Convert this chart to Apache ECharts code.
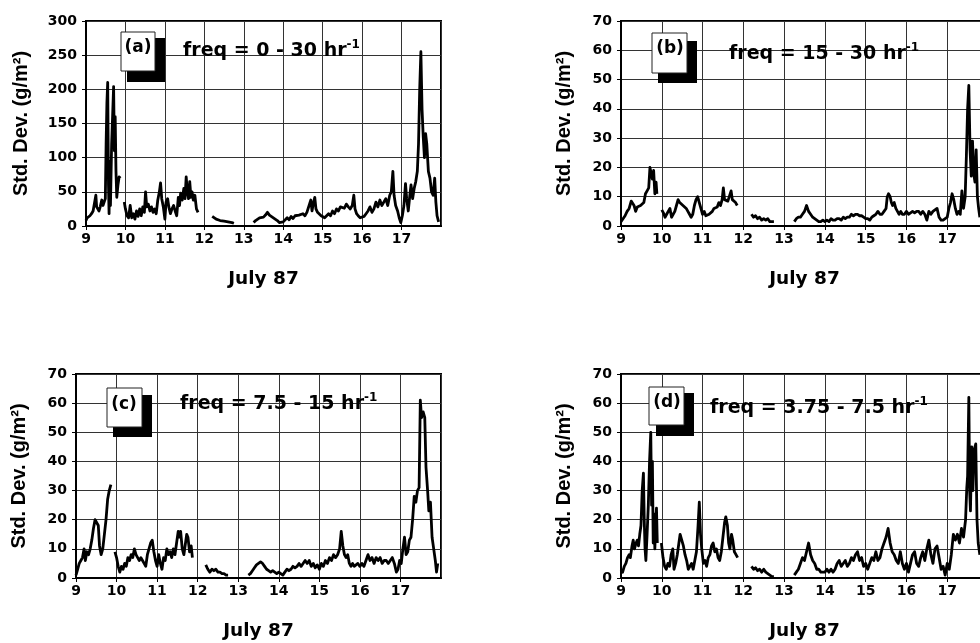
<!DOCTYPE html>
<html><head><meta charset="utf-8">
<script src="https://cdn.jsdelivr.net/npm/echarts@6.0.0/dist/echarts.min.js"></script>
<style>html,body{margin:0;padding:0;background:#fff;}#chart{width:980px;height:643px;}</style>
</head><body><div id="chart"></div>
<script>
// ---- texts ----
const xTitle = 'July 87';
const yTitle = 'Std. Dev. (g/m\u00B2)';
const panelTags = ['(a)', '(b)', '(c)', '(d)'];
const freqLabels = ['freq = 0 - 30 hr', 'freq = 15 - 30 hr', 'freq = 7.5 - 15 hr', 'freq = 3.75 - 7.5 hr'];
const freqUnitExp = '-1';
// ---- axes ----
const dayMin = 9, dayMax = 18, dayStep = 1;
const yMaxes = [300, 70, 70, 70];
const yIntervals = [50, 10, 10, 10];
// ---- data: [day of July 1987, std. dev. g/m2]; null = gap in record ----
const seriesA = [
[9.00,8],[9.03,12],[9.07,10],[9.10,15],[9.14,18],[9.18,22],[9.21,20],[9.25,45],[9.27,28],[9.30,30],[9.33,22],[9.36,28],[9.40,38],[9.43,30],[9.46,35],[9.49,40],[9.51,120],[9.53,180],[9.55,210],[9.57,60],[9.585,18],[9.60,95],[9.62,30],[9.65,120],[9.68,170],[9.70,204],[9.72,110],[9.74,160],[9.76,80],[9.78,42],[9.81,60],[9.84,72],[9.87,70],
[9.92,null],
[9.97,35],[10.00,25],[10.04,15],[10.08,12],[10.12,30],[10.16,12],[10.20,18],[10.24,10],[10.28,22],[10.32,14],[10.36,25],[10.40,15],[10.44,28],[10.48,20],[10.51,50],[10.54,28],[10.58,32],[10.62,22],[10.66,28],[10.70,20],[10.74,25],[10.78,18],[10.82,38],[10.86,50],[10.89,63],[10.92,40],[10.96,28],[11.00,10],[11.03,35],[11.07,40],[11.10,28],[11.14,18],[11.18,25],[11.22,30],[11.26,22],[11.30,15],[11.34,42],[11.37,30],[11.40,48],[11.44,38],[11.48,55],[11.51,40],[11.54,72],[11.57,50],[11.60,40],[11.63,65],[11.66,42],[11.69,50],[11.72,38],[11.76,45],[11.80,25],[11.84,20],
[11.95,null],
[12.20,14],[12.25,12],[12.30,10],[12.35,11],[12.40,8],[12.45,9],[12.50,7],[12.55,8],[12.60,6],[12.65,7],[12.70,5],[12.75,4],
[13.00,null],
[13.25,5],[13.30,8],[13.35,10],[13.40,12],[13.45,14],[13.50,13],[13.55,16],[13.60,20],[13.65,16],[13.70,14],[13.75,12],[13.80,10],[13.85,8],[13.90,5],[13.95,4],[14.00,6],[14.05,8],[14.10,12],[14.15,9],[14.20,14],[14.25,11],[14.30,15],[14.35,13],[14.40,16],[14.45,14],[14.50,18],[14.55,15],[14.60,20],[14.65,18],[14.70,38],[14.73,22],[14.76,32],[14.80,42],[14.83,25],[14.87,20],[14.92,18],[14.96,15],[15.00,14],[15.05,12],[15.10,10],[15.15,18],[15.20,15],[15.25,22],[15.30,18],[15.35,25],[15.40,22],[15.45,28],[15.50,30],[15.55,26],[15.60,32],[15.65,28],[15.70,25],[15.75,30],[15.79,45],[15.82,25],[15.86,18],[15.90,15],[15.95,12],[16.00,10],[16.05,14],[16.10,18],[16.15,22],[16.20,28],[16.25,20],[16.30,25],[16.35,35],[16.40,28],[16.45,38],[16.50,30],[16.55,35],[16.60,40],[16.65,30],[16.70,45],[16.74,50],[16.78,80],[16.81,45],[16.85,30],[16.90,22],[16.94,12],[16.98,5],[17.02,15],[17.06,30],[17.10,62],[17.13,40],[17.17,22],[17.21,45],[17.24,60],[17.28,40],[17.32,55],[17.36,65],[17.40,80],[17.43,120],[17.46,200],[17.49,255],[17.52,170],[17.55,130],[17.58,100],[17.61,135],[17.64,120],[17.68,80],[17.72,70],[17.76,50],[17.80,45],[17.84,70],[17.87,35],[17.90,15],[17.94,6]
];
const seriesB = [
[9.00,1.5],[9.05,2.5],[9.10,3.5],[9.15,5],[9.20,6],[9.25,8.5],[9.28,9],[9.32,7],[9.36,5],[9.40,6.5],[9.44,6],[9.48,7],[9.52,6.5],[9.56,8],[9.60,11],[9.64,12],[9.68,13],[9.71,20],[9.74,20],[9.77,16],[9.80,19],[9.83,11],[9.86,15],[9.88,11],
[9.93,null],
[10.00,5.5],[10.04,4.5],[10.08,3],[10.12,4],[10.16,3.5],[10.20,6],[10.24,3],[10.28,4],[10.32,5],[10.36,7],[10.40,9],[10.44,8],[10.48,8],[10.52,7],[10.56,6.5],[10.60,6],[10.64,5],[10.68,4],[10.72,3],[10.76,4],[10.80,7],[10.84,9],[10.88,10],[10.92,8],[10.96,6],[11.00,4],[11.04,5],[11.08,3.5],[11.12,3],[11.16,4],[11.20,4],[11.24,5],[11.28,6],[11.32,5.5],[11.36,6.5],[11.40,8],[11.44,7],[11.48,9],[11.51,13],[11.54,9],[11.58,9],[11.62,8.5],[11.66,8],[11.70,12],[11.73,9],[11.77,8.5],[11.81,8],[11.85,7],
[11.95,null],
[12.20,4],[12.25,3],[12.30,3.5],[12.35,2.5],[12.40,3],[12.45,2],[12.50,2.5],[12.55,2],[12.60,2.5],[12.65,1.5],[12.70,1.5],[12.75,1.5],
[13.00,null],
[13.25,1.5],[13.30,2.5],[13.35,3],[13.40,3],[13.45,4],[13.50,5],[13.55,7],[13.60,5],[13.65,4],[13.70,3],[13.75,2.5],[13.80,2],[13.85,1.5],[13.90,1.5],[13.95,2],[14.00,1.5],[14.05,2],[14.10,1.5],[14.15,2.5],[14.20,2],[14.25,2],[14.30,2.5],[14.35,2.5],[14.40,2],[14.45,3],[14.50,2.5],[14.55,3],[14.60,3],[14.65,4],[14.70,3.5],[14.75,4],[14.80,4],[14.85,3.5],[14.90,3.5],[14.95,3],[15.00,2.5],[15.05,2.5],[15.10,2],[15.15,3],[15.20,3.5],[15.25,4],[15.30,5],[15.35,4],[15.40,4],[15.45,5],[15.50,6],[15.53,10],[15.56,11],[15.60,10],[15.63,8],[15.66,7],[15.70,8],[15.74,6],[15.78,5],[15.82,4],[15.86,5],[15.90,4],[15.95,4],[16.00,5],[16.05,4],[16.10,4.5],[16.15,5],[16.20,4.5],[16.25,5],[16.30,5],[16.35,4],[16.40,5],[16.45,4],[16.50,2],[16.55,5],[16.60,4],[16.65,5],[16.70,5.5],[16.75,6],[16.80,3],[16.85,2],[16.90,2],[16.95,2.5],[17.00,3],[17.04,6],[17.08,8],[17.12,11],[17.16,9],[17.20,6],[17.24,4],[17.28,5],[17.32,4],[17.36,12],[17.40,6],[17.44,10],[17.47,24],[17.50,40],[17.53,48],[17.56,26],[17.59,17],[17.62,29],[17.65,18],[17.68,15],[17.71,26],[17.74,10],[17.77,6],[17.80,3]
];
const seriesC = [
[9.00,1],[9.04,3],[9.08,5],[9.12,6],[9.16,7],[9.20,10],[9.23,6],[9.27,9],[9.31,8],[9.35,10],[9.39,13],[9.43,17],[9.47,20],[9.51,20],[9.55,18],[9.58,11],[9.62,8],[9.66,10],[9.70,15],[9.74,20],[9.78,27],[9.82,30],[9.86,32],
[9.91,null],
[9.96,9],[10.00,7],[10.04,4],[10.08,2],[10.12,4],[10.16,3],[10.20,5],[10.24,4],[10.28,7],[10.32,6],[10.36,8],[10.40,7],[10.44,10],[10.48,8],[10.52,7],[10.56,6],[10.60,7],[10.64,6],[10.68,5],[10.72,4],[10.76,8],[10.80,10],[10.84,12],[10.88,13],[10.92,9],[10.96,6],[11.00,4],[11.04,8],[11.08,5],[11.12,3],[11.16,7],[11.20,6],[11.24,10],[11.28,8],[11.32,9],[11.36,7],[11.40,10],[11.44,8],[11.48,12],[11.52,16],[11.55,14],[11.58,16],[11.62,10],[11.66,8],[11.70,12],[11.73,15],[11.76,14],[11.80,9],[11.84,11],[11.87,7],
[11.95,null],
[12.20,4.5],[12.25,3],[12.30,2],[12.35,3],[12.40,2.5],[12.45,3],[12.50,2],[12.55,2],[12.60,1.5],[12.65,1.5],[12.70,1],[12.75,1],
[13.00,null],
[13.25,1],[13.30,1.5],[13.35,2.5],[13.40,3.5],[13.45,4.5],[13.50,5],[13.55,5.5],[13.60,5],[13.65,4],[13.70,3],[13.75,2.5],[13.80,2],[13.85,2.5],[13.90,2],[13.95,1.5],[14.00,2],[14.05,1.5],[14.10,1],[14.15,2],[14.20,3],[14.25,2.5],[14.30,3],[14.35,4],[14.40,3.5],[14.45,4],[14.50,5],[14.55,4],[14.60,5],[14.65,6],[14.70,5],[14.75,6],[14.80,4],[14.85,5],[14.90,3.5],[14.95,4.5],[15.00,3],[15.05,5],[15.10,4],[15.15,6],[15.20,5],[15.25,7],[15.30,6],[15.35,8],[15.40,7],[15.45,8],[15.50,10],[15.54,16],[15.58,11],[15.62,8],[15.66,7],[15.70,8],[15.74,5],[15.78,4],[15.82,5],[15.86,4],[15.90,4],[15.95,5],[16.00,4],[16.05,5],[16.10,4],[16.15,6],[16.20,8],[16.25,6],[16.30,7],[16.35,5],[16.40,7],[16.45,6],[16.50,7],[16.55,5],[16.60,6],[16.65,6],[16.70,5],[16.75,6],[16.80,7],[16.85,5],[16.90,2],[16.94,3],[16.98,6],[17.02,5],[17.06,10],[17.10,14],[17.14,8],[17.18,9],[17.22,13],[17.26,14],[17.30,20],[17.34,28],[17.38,26],[17.42,30],[17.46,31],[17.49,61],[17.52,55],[17.56,57],[17.60,55],[17.63,38],[17.67,30],[17.70,23],[17.74,26],[17.78,14],[17.82,10],[17.86,6],[17.89,2],[17.92,5]
];
const seriesD = [
[9.00,3],[9.04,2],[9.08,4],[9.12,5],[9.16,7],[9.20,8],[9.23,7],[9.27,11],[9.30,13],[9.33,10],[9.37,12],[9.40,13],[9.43,11],[9.46,15],[9.49,18],[9.52,30],[9.55,36],[9.57,20],[9.59,10],[9.61,6],[9.64,15],[9.67,25],[9.70,40],[9.73,50],[9.75,25],[9.77,40],[9.79,12],[9.81,22],[9.83,10],[9.85,18],[9.87,24],[9.89,12],
[9.94,null],
[9.99,12],[10.03,7],[10.07,4],[10.11,3],[10.15,5],[10.19,4],[10.23,8],[10.27,10],[10.30,3],[10.34,5],[10.38,8],[10.42,12],[10.45,15],[10.49,13],[10.53,11],[10.57,8],[10.61,6],[10.65,3],[10.69,4],[10.73,5],[10.77,3],[10.81,6],[10.85,9],[10.89,18],[10.92,26],[10.95,15],[10.98,10],[11.02,5],[11.06,6],[11.10,4],[11.14,7],[11.18,8],[11.22,11],[11.26,12],[11.30,9],[11.34,10],[11.38,7],[11.42,6],[11.46,9],[11.50,14],[11.54,19],[11.57,21],[11.61,18],[11.64,12],[11.67,10],[11.71,15],[11.74,13],[11.78,9],[11.82,8],[11.86,7],
[11.95,null],
[12.20,4],[12.25,3],[12.30,3.5],[12.35,2.5],[12.40,3],[12.45,2],[12.50,3],[12.55,2],[12.60,1.5],[12.65,1],[12.70,0.5],[12.75,0.5],
[13.00,null],
[13.25,1],[13.30,2],[13.35,3],[13.40,5],[13.45,7],[13.50,6],[13.55,9],[13.60,12],[13.65,8],[13.70,6],[13.75,5],[13.80,3],[13.85,3],[13.90,2],[13.95,2],[14.00,2],[14.05,3],[14.10,2],[14.15,3],[14.20,2],[14.25,3],[14.30,5],[14.35,6],[14.40,4],[14.45,5],[14.50,6],[14.55,4],[14.60,5],[14.65,7],[14.70,6],[14.75,8],[14.80,9],[14.85,6],[14.90,7],[14.95,4],[15.00,5],[15.05,3],[15.10,5],[15.15,7],[15.20,6],[15.25,9],[15.30,6],[15.35,7],[15.40,10],[15.45,12],[15.50,14],[15.55,17],[15.60,12],[15.65,9],[15.70,8],[15.75,6],[15.80,5],[15.85,9],[15.90,5],[15.95,3],[16.00,5],[16.05,2],[16.10,5],[16.15,8],[16.20,9],[16.25,5],[16.30,4],[16.35,7],[16.40,9],[16.45,6],[16.50,10],[16.55,13],[16.60,8],[16.65,5],[16.70,10],[16.75,11],[16.80,7],[16.85,3],[16.90,4],[16.95,1],[17.00,5],[17.05,3],[17.10,8],[17.15,15],[17.20,13],[17.25,15],[17.30,12],[17.35,17],[17.40,14],[17.45,20],[17.48,31],[17.50,35],[17.53,62],[17.55,30],[17.57,23],[17.60,45],[17.63,30],[17.66,44],[17.70,46],[17.73,20],[17.76,12],[17.80,8]
];
const allSeries = [seriesA, seriesB, seriesC, seriesD];

// ---- layout (pixels) ----
const layout = [
  {grid:{left:86, top:21, width:355, height:205}, nameGap:55, xGap:44, shadow:[127,38,38,44], box:[121,32,34,39], tag:[138,48], freq:[183,51]},
  {grid:{left:621, top:21, width:367, height:205}, nameGap:47, xGap:44, shadow:[658,41,39,42], box:[652,33,35,40], tag:[670,49], freq:[729,54]},
  {grid:{left:76, top:374, width:365, height:204}, nameGap:47, xGap:44, shadow:[113,395,39,42], box:[107,388,35,39], tag:[124,405], freq:[180,404]},
  {grid:{left:621, top:374, width:367, height:204}, nameGap:47, xGap:44, shadow:[656,393,38,43], box:[649,387,35,38], tag:[667,403], freq:[710,408]}
];

const tickFont = {fontFamily:'DejaVu Sans', fontWeight:'bold', fontSize:14, color:'#000'};
const grids = [], xAxes = [], yAxes = [], series = [], graphics = [];
layout.forEach((L, i) => {
  grids.push(Object.assign({show:true, borderColor:'#000', borderWidth:2, outerBoundsMode:'none', containLabel:false}, L.grid));
  xAxes.push({
    type:'value', gridIndex:i, min:dayMin, max:dayMax, interval:dayStep,
    name:xTitle, nameLocation:'middle', nameGap:L.xGap,
    nameTextStyle:{fontFamily:'DejaVu Sans', fontWeight:'bold', fontSize:18.5, color:'#000'},
    axisLine:{show:true, onZero:false, lineStyle:{color:'#000', width:2}},
    axisTick:{show:true, length:4, lineStyle:{color:'#000', width:1}},
    axisLabel:Object.assign({margin:6, showMaxLabel:false, showMinLabel:true}, tickFont),
    splitLine:{show:true, lineStyle:{color:'#333', width:1}}
  });
  yAxes.push({
    type:'value', gridIndex:i, min:0, max:yMaxes[i], interval:yIntervals[i],
    name:yTitle, nameLocation:'middle', nameGap:L.nameGap,
    nameTextStyle:{fontFamily:'Liberation Sans', fontWeight:'bold', fontSize:20, color:'#000'},
    axisLine:{show:true, lineStyle:{color:'#000', width:2}},
    axisTick:{show:true, length:4, lineStyle:{color:'#000', width:1}},
    axisLabel:Object.assign({margin:9}, tickFont),
    splitLine:{show:true, lineStyle:{color:'#333', width:1}}
  });
  series.push({
    type:'line', xAxisIndex:i, yAxisIndex:i, showSymbol:false, symbol:'none',
    connectNulls:false, clip:true, animation:false,
    lineStyle:{color:'#000', width:2.8, join:'round'},
    data: allSeries[i].map(p => [p[0], p[1] === null ? '-' : p[1]])
  });
  graphics.push(
    {type:'rect', shape:{x:L.shadow[0], y:L.shadow[1], width:L.shadow[2], height:L.shadow[3]}, style:{fill:'#000'}, z:100},
    {type:'rect', shape:{x:L.box[0], y:L.box[1], width:L.box[2], height:L.box[3]}, style:{fill:'#fff', stroke:'#222', lineWidth:1}, z:101},
    {type:'text', x:L.tag[0], y:L.tag[1], z:102, style:{text:panelTags[i], fill:'#000', fontFamily:'DejaVu Sans', fontWeight:'bold', fontSize:17, align:'center', verticalAlign:'middle', textAlign:'center', textVerticalAlign:'middle'}},
    {type:'text', x:L.freq[0], y:L.freq[1], z:102, style:{
      text:'{m|' + freqLabels[i] + '}{s|' + freqUnitExp + '}',
      align:'left', verticalAlign:'middle', textAlign:'left', textVerticalAlign:'middle',
      rich:{
        m:{fontFamily:'DejaVu Sans', fontWeight:'bold', fontSize:19, lineHeight:24, fill:'#000', color:'#000'},
        s:{fontFamily:'DejaVu Sans', fontWeight:'bold', fontSize:12, lineHeight:12, verticalAlign:'top', fill:'#000', color:'#000'}
      }}}
  );
});

const chart = echarts.init(document.getElementById('chart'), null, {renderer:'canvas'});
chart.setOption({
  animation:false,
  backgroundColor:'#fff',
  grid:grids, xAxis:xAxes, yAxis:yAxes, series:series, graphic:graphics
});
</script></body></html>
